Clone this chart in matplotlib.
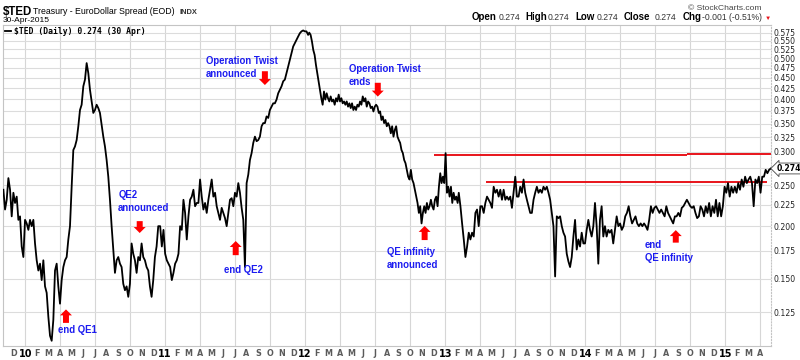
import pandas as pd
import matplotlib
matplotlib.use("Agg")
import matplotlib.pyplot as plt
import matplotlib.dates as mdates
from matplotlib.ticker import FixedLocator, NullLocator, FuncFormatter

plt.rcParams['font.family'] = ['Liberation Sans', 'DejaVu Sans']

# $TED closes, one list per stretch (first date, last date)
ted_2010 = [.244, .219, .231, .260, .244, .211, .240, .227, .235, .207,
            .211, .179, .169, .207, .203, .196, .207, .200, .207, .182,
            .166, .157, .163, .149, .166, .144, .139, .122, .110, .107,
            .120, .157, .163, .144, .131, .149, .160, .166, .169, .186,
            .200, .248, .303, .309, .320, .345, .377, .388, .429, .445,
            .487, .461, .421, .395, .371, .377, .388, .381, .371, .348,
            .326, .309, .287, .262, .231, .200, .176, .155, .166, .169,
            .163, .160, .146, .141, .144, .136, .146, .182, .172, .166,
            .155, .169, .166, .182, .169, .166, .160, .157, .144, .136,
            .149, .169, .179, .200]
ted_2011 = [.200, .179, .196, .172, .166, .163, .160, .149, .155, .163,
            .166, .172, .200, .196, .231, .215, .186, .211, .231, .235,
            .244, .223, .227, .227, .258, .235, .219, .227, .215, .231,
            .244, .258, .235, .240, .223, .215, .207, .221, .215, .209,
            .200, .215, .231, .233, .223, .240, .235, .253, .240, .221,
            .207, .160, .253, .265, .287, .298, .315, .326, .318, .320,
            .326, .345, .351, .351, .364, .361, .377, .384, .391, .391,
            .399, .413, .421, .429, .441, .445, .461, .478, .496, .514,
            .533, .543, .553, .563, .573, .579, .582, .579, .579, .568]
ted_2012 = [.575, .568, .548, .523, .509, .482, .461, .441, .421, .402,
            .388, .417, .399, .413, .402, .395, .406, .395, .399, .388,
            .402, .395, .410, .395, .402, .391, .395, .388, .395, .384,
            .391, .381, .391, .377, .384, .377, .388, .384, .395, .388,
            .406, .395, .402, .384, .395, .391, .381, .384, .374, .384,
            .388, .384, .371, .374, .357, .364, .351, .357, .345, .351,
            .345, .332, .345, .326, .338, .345, .326, .320, .315, .303,
            .298, .287, .282, .272, .262, .258, .272, .258, .253, .244,
            .235, .227, .215, .223, .203, .215, .223, .215, .227, .219,
            .223, .231, .223, .219, .231, .235, .223, .248, .267, .253,
            .262, .253, .298, .240, .248, .235, .248, .227, .240, .231,
            .235, .227]
ted_2013 = [.240, .223, .203, .186, .169, .179, .193, .186, .193, .189,
            .215, .219, .200, .223, .223, .215, .227, .235, .231, .227,
            .221, .248, .240, .244, .235, .244, .231, .244, .231, .235,
            .231, .235, .221, .240, .262, .235, .235, .248, .240, .258,
            .240, .231, .223, .215, .215, .231, .240, .248, .240, .244,
            .240, .248, .244, .248, .240, .231, .215, .200, .152, .211,
            .209, .211, .200, .193, .189, .172, .165, .160, .169, .189,
            .207, .176, .186, .179, .193, .182, .182, .196, .207, .196,
            .189, .200, .227, .200, .163, .207, .223, .189, .200, .189,
            .196]
ted_2014 = [.193, .196, .182, .196, .211, .200, .203, .196, .200, .211,
            .215, .223, .211, .203, .207, .211, .203, .200, .203, .200,
            .203, .200, .196, .207, .223, .215, .221, .223, .219, .215,
            .219, .215, .211, .223, .215, .211, .207, .203, .211, .211,
            .215, .211, .221, .223, .227, .231, .227, .223, .221, .223,
            .215, .209, .211, .223, .219, .211, .223, .215, .227, .211,
            .223, .215, .231, .211, .227, .211, .223, .248, .240, .253,
            .235, .248, .240, .248, .240, .253, .244, .258, .248, .262,
            .253, .258, .262, .253, .223, .258, .253, .262, .240, .262,
            .262, .272, .267, .272, .274]
spans = [("2009-11-05", "2010-12-14"), ("2010-12-19", "2012-01-09"),
         ("2012-01-12", "2013-02-02"), ("2013-02-05", "2014-03-02"),
         ("2014-03-06", "2015-04-30")]

# the red lines drawn on the chart: from, to, level
red_lines = [("2012-12-02", "2014-09-23", 0.295),
             ("2014-09-23", "2015-04-30", 0.297),
             ("2013-04-17", "2015-04-21", 0.255)]

y_ticks = [0.125, 0.150, 0.175, 0.200, 0.225, 0.250, 0.275, 0.300, 0.325,
           0.350, 0.375, 0.400, 0.425, 0.450, 0.475, 0.500, 0.525, 0.550, 0.575]

# blue notes: text, text x/y, arrow x, arrow tail y, arrow tip y (axes fraction)
notes = [("end QE1", 0.072, 0.064, 0.082, 0.072, 0.114),
         ("QE2\nannounced", 0.150, 0.486, 0.178, 0.389, 0.352),
         ("Operation Twist\nannounced", 0.264, 0.903, 0.341, 0.856, 0.813),
         ("end QE2", 0.288, 0.252, 0.303, 0.283, 0.327),
         ("Operation Twist\nends", 0.450, 0.879, 0.488, 0.820, 0.777),
         ("QE infinity\nannounced", 0.500, 0.309, 0.549, 0.330, 0.374),
         ("end\nQE infinity", 0.836, 0.330, 0.876, 0.322, 0.361)]

fig = plt.figure(figsize=(8, 3.6), dpi=100)
ax = fig.add_axes([3 / 800, 14 / 360, 768 / 800, 321 / 360])

dates, values = [], []
for (start, end), seg in zip(spans, [ted_2010, ted_2011, ted_2012, ted_2013, ted_2014]):
    dates.extend(pd.date_range(start, end, periods=len(seg)))
    values.extend(seg)
last = values[-1]

ax.plot(dates, values, color='black', lw=1.3, zorder=4,
        label=r"\$TED (Daily) %.3f (30 Apr)" % last)
for d0, d1, lev in red_lines:
    ax.hlines(lev, pd.Timestamp(d0), pd.Timestamp(d1), color='#e8141b', lw=1.4, zorder=3)

ax.set_yscale('log')
ax.set_ylim(0.104, 0.5995)
ax.set_xlim(pd.Timestamp("2009-11-04"), pd.Timestamp("2015-04-30 12:00"))

ax.yaxis.set_major_locator(FixedLocator(y_ticks))
ax.yaxis.set_minor_locator(NullLocator())
ax.yaxis.set_major_formatter(FuncFormatter(lambda v, p: "" if abs(v - 0.275) < 1e-6 else "%.3f" % v))
ax.yaxis.tick_right()
ax.tick_params(axis='y', length=0, pad=2, labelsize=5.6, labelcolor='#222',
               labelfontfamily='DejaVu Sans')
ax.grid(axis='y', color='#dcdcdc', lw=0.8, zorder=0)
for q in pd.date_range("2010-01-01", "2015-04-01", freq='QS'):
    ax.axvline(q, color='#d6d6d6', lw=0.8, zorder=0)

ax.xaxis.set_major_locator(mdates.MonthLocator(bymonth=range(2, 13)))
ax.xaxis.set_major_formatter(FuncFormatter(lambda v, p: mdates.num2date(v).strftime('%b')[0]))
ax.xaxis.set_minor_locator(mdates.YearLocator())
ax.xaxis.set_minor_formatter(mdates.DateFormatter('%y'))
ax.tick_params(axis='x', which='both', length=0, pad=2.5, labelfontfamily='DejaVu Sans')
ax.tick_params(axis='x', which='major', labelsize=5.8, labelcolor='#5a5a5a')
ax.tick_params(axis='x', which='minor', labelsize=7, labelcolor='black')
plt.setp(ax.get_xticklabels(minor=True), fontweight='bold')
plt.setp(ax.get_xticklabels(), fontweight='bold')

for s in ax.spines.values():
    s.set_color('#c4c4c4')
    s.set_linewidth(0.8)
ax.spines['right'].set_linestyle(':')

ax.legend(loc='upper left', frameon=False, handlelength=0.7, handletextpad=0.4,
          borderaxespad=0.15, borderpad=0.1,
          prop={'family': 'DejaVu Sans Mono', 'weight': 'bold', 'size': 5.8})

ax.annotate("%.3f" % last, xy=(1, last), xycoords=('axes fraction', 'data'),
            xytext=(4, 0), textcoords='offset points', ha='left', va='center',
            fontsize=5.6, fontweight='bold', family='DejaVu Sans', annotation_clip=False,
            bbox=dict(boxstyle='larrow,pad=0.12', fc='white', ec='#444', lw=0.6), zorder=6)

for text, tx, ty, axx, tail, tip in notes:
    ax.text(tx, ty, text, transform=ax.transAxes, color='#1c1cf0', fontsize=6.9,
            fontweight='bold', ha='left', va='top', linespacing=1.35, zorder=5)
    ax.annotate('', xy=(axx, tip), xytext=(axx, tail), xycoords='axes fraction',
                arrowprops=dict(arrowstyle='simple,head_length=0.5,head_width=1.0,tail_width=0.5',
                                fc='#ff0000', ec='none', mutation_scale=8.6,
                                shrinkA=0, shrinkB=0), zorder=5)

# header
fig.text(3 / 800, 1 - 15 / 360, r"\$TED", fontsize=8.3, fontweight='bold', va='baseline')
fig.text(33 / 800, 1 - 14 / 360, "Treasury - EuroDollar Spread (EOD)", fontsize=6.3, va='baseline')
fig.text(180 / 800, 1 - 14 / 360, "INDX", fontsize=5.4, fontweight='bold', va='baseline', color='#333')
fig.text(3 / 800, 1 - 22.5 / 360, "30-Apr-2015", fontsize=6, va='baseline')
fig.text(762 / 800, 1 - 10 / 360, "\u00a9 StockCharts.com", fontsize=6.1, ha='right',
         va='baseline', color='#444')

ohlc = [(472, "Open", True), (499, "0.274", False), (525, "High", True), (548, "0.274", False),
        (575, "Low", True), (597, "0.274", False), (624, "Close", True), (655, "0.274", False),
        (683, "Chg", True), (702, "-0.001 (-0.51%)", False)]
for x, s, bold in ohlc:
    fig.text(x / 800, 1 - 20.5 / 360, s, va='baseline',
             fontsize=7 if bold else 6.2, fontweight='bold' if bold else 'normal',
             color='black' if bold else '#333')
fig.text(765 / 800, 1 - 20 / 360, "\u25bc", fontsize=4.5, color='#e8141b', va='baseline')

fig.savefig("out.png", dpi=100)
